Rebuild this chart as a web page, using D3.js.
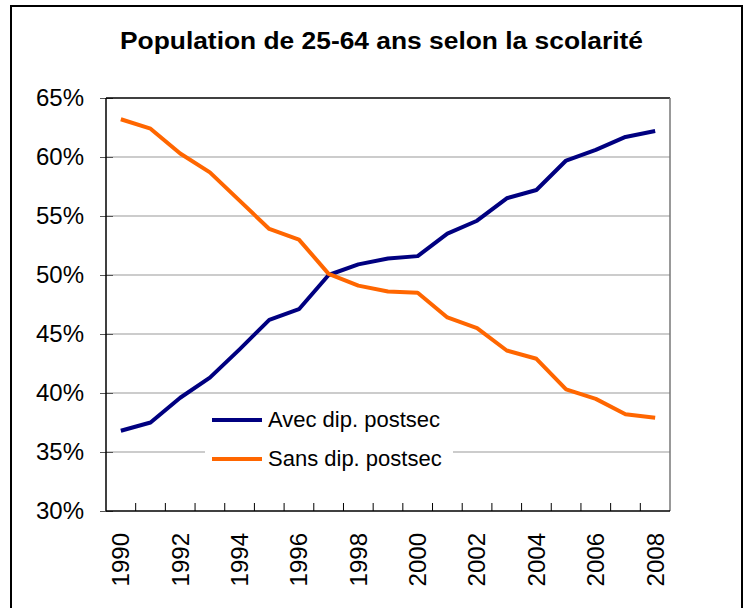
<!DOCTYPE html>
<html lang="fr">
<head>
<meta charset="UTF-8">
<title>Population de 25-64 ans selon la scolarité</title>
<script src="https://cdn.jsdelivr.net/npm/d3@7"></script>
<style>
  body { margin: 0; background: #fff; }
  svg { display: block; font-family: Arial, "Liberation Sans", sans-serif; }
  .axisY path, .axisX path { display: none; }
  .axisY text, .axisX text { fill: #000; font-size: 24px; }
  .legend text { font-size: 22px; fill: #000; }
</style>
</head>
<body>
<script>

var years = [1990, 1991, 1992, 1993, 1994, 1995, 1996, 1997, 1998, 1999,
             2000, 2001, 2002, 2003, 2004, 2005, 2006, 2007, 2008];
var avecDip = [36.8, 37.5, 39.6, 41.3, 43.7, 46.2, 47.1, 50.0, 50.9, 51.4,
               51.6, 53.5, 54.6, 56.5, 57.2, 59.7, 60.6, 61.7, 62.2];
var sansDip = [63.2, 62.4, 60.3, 58.7, 56.3, 53.9, 53.0, 50.1, 49.1, 48.6,
               48.5, 46.4, 45.5, 43.6, 42.9, 40.3, 39.5, 38.2, 37.9];
var yTicks = [30, 35, 40, 45, 50, 55, 60, 65];
var xLabels = [1990, 1992, 1994, 1996, 1998, 2000, 2002, 2004, 2006, 2008];
var series = [
  {name: 'Avec dip. postsec', values: avecDip, color: '#000080'},
  {name: 'Sans dip. postsec', values: sansDip, color: '#ff6600'}
];

var W = 744, H = 608;
var plot = {left: 106, right: 670, top: 98, bottom: 511};

var svg = d3.select('body').append('svg')
  .attr('width', W)
  .attr('height', H);

// outer frame
svg.append('rect')
  .attr('x', 11).attr('y', 6)
  .attr('width', 731).attr('height', 700)
  .attr('fill', '#fff')
  .attr('stroke', '#000')
  .attr('stroke-width', 2);

svg.append('text')
  .attr('x', 381.5)
  .attr('y', 49)
  .attr('text-anchor', 'middle')
  .attr('textLength', 523)
  .attr('lengthAdjust', 'spacingAndGlyphs')
  .style('font-size', '23px')
  .style('font-weight', 'bold')
  .text('Population de 25-64 ans selon la scolarité');

var x = d3.scaleBand()
  .domain(years)
  .range([plot.left, plot.right])
  .padding(0);

var y = d3.scaleLinear()
  .domain([30, 65])
  .range([plot.bottom, plot.top]);

function xc(yr) { return x(yr) + x.bandwidth() / 2; }

// gridlines
svg.append('g')
  .selectAll('line')
  .data(yTicks.filter(function (d) { return d > 30 && d < 65; }))
  .enter()
  .append('line')
  .attr('x1', plot.left).attr('x2', plot.right)
  .attr('y1', function (d) { return y(d); })
  .attr('y2', function (d) { return y(d); })
  .attr('stroke', '#999')
  .attr('stroke-width', 1);

// y axis
var gy = svg.append('g')
  .attr('class', 'axisY')
  .attr('transform', 'translate(' + plot.left + ',0)')
  .call(d3.axisLeft(y)
    .tickValues(yTicks)
    .tickSize(6)
    .tickPadding(16)
    .tickFormat(function (d) { return d + '%'; }));
gy.selectAll('.tick line')
  .attr('x2', -6).attr('x1', 7)
  .attr('stroke', '#555');

// x axis labels (rotated)
var gx = svg.append('g')
  .attr('class', 'axisX')
  .attr('transform', 'translate(0,' + plot.bottom + ')')
  .call(d3.axisBottom(x).tickValues(xLabels).tickSize(0).tickPadding(0));
gx.selectAll('.tick text')
  .attr('transform', 'rotate(-90)')
  .attr('x', -22)
  .attr('y', 0)
  .attr('dy', '0.35em')
  .attr('text-anchor', 'end');

// x ticks at category boundaries, pointing up into the plot
svg.append('g')
  .selectAll('line')
  .data(years.slice(1))
  .enter()
  .append('line')
  .attr('x1', function (d) { return x(d); })
  .attr('x2', function (d) { return x(d); })
  .attr('y1', plot.bottom)
  .attr('y2', plot.bottom - 8)
  .attr('stroke', '#000')
  .attr('stroke-width', 1);

// plot borders
svg.append('line')
  .attr('x1', plot.left).attr('x2', plot.right)
  .attr('y1', plot.top).attr('y2', plot.top)
  .attr('stroke', '#000').attr('stroke-width', 1.5);
svg.append('line')
  .attr('x1', plot.right).attr('x2', plot.right)
  .attr('y1', plot.top).attr('y2', plot.bottom)
  .attr('stroke', '#777').attr('stroke-width', 1.5);
svg.append('line')
  .attr('x1', plot.left).attr('x2', plot.left)
  .attr('y1', plot.top).attr('y2', plot.bottom)
  .attr('stroke', '#000').attr('stroke-width', 1.5);
svg.append('line')
  .attr('x1', plot.left).attr('x2', plot.right)
  .attr('y1', plot.bottom).attr('y2', plot.bottom)
  .attr('stroke', '#000').attr('stroke-width', 1.5);

// legend box (white, hides gridline)
var legend = svg.append('g').attr('class', 'legend');
legend.append('rect')
  .attr('x', 205).attr('y', 399)
  .attr('width', 248).attr('height', 80)
  .attr('fill', '#fff');

// lines
var line = d3.line()
  .x(function (d, i) { return xc(years[i]); })
  .y(function (d) { return y(d); });

svg.selectAll('.series')
  .data(series)
  .enter()
  .append('path')
  .attr('class', 'series')
  .attr('d', function (d) { return line(d.values); })
  .attr('fill', 'none')
  .attr('stroke', function (d) { return d.color; })
  .attr('stroke-width', 4)
  .attr('stroke-linejoin', 'round');

var items = legend.selectAll('.item')
  .data(series)
  .enter()
  .append('g')
  .attr('class', 'item')
  .attr('transform', function (d, i) { return 'translate(212,' + (420 + i * 39) + ')'; });

items.append('line')
  .attr('x1', 0).attr('x2', 50)
  .attr('stroke', function (d) { return d.color; })
  .attr('stroke-width', 4);

items.append('text')
  .attr('x', 56)
  .attr('y', 7)
  .text(function (d) { return d.name; });

</script>
</body>
</html>
